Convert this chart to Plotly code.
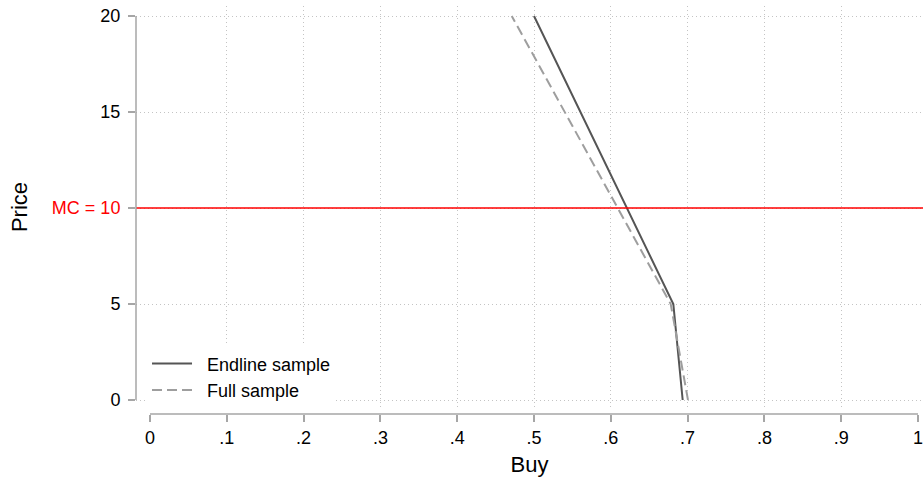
import plotly.graph_objects as go

# Demand curves: share buying at each price
price = [0, 5, 20]
buy_endline = [0.6936, 0.6814, 0.500]
buy_full = [0.7005, 0.678, 0.471]
marginal_cost = 10

x_ticks = [0, 0.1, 0.2, 0.3, 0.4, 0.5, 0.6, 0.7, 0.8, 0.9, 1]
x_labels = ["0", ".1", ".2", ".3", ".4", ".5", ".6", ".7", ".8", ".9", "1"]
y_ticks = [0, 5, 10, 15, 20]
y_labels = ["0", "5", '<span style="color:#ff0000">MC = 10</span>', "15", "20"]

AXIS_GRAY = "#a6a6a6"
GRID_GRAY = "#c4c4c4"
FONT = "Liberation Sans, Arial, Helvetica, sans-serif"
GAP = "\u00a0\u00a0"

fig = go.Figure()
fig.add_trace(go.Scatter(
    x=buy_endline, y=price, mode="lines", name=GAP + "Endline sample",
    line=dict(color="#555555", width=2), legendgroup="a",
))
fig.add_trace(go.Scatter(
    x=buy_full, y=price, mode="lines", name=GAP + "Full sample",
    line=dict(color="#9e9e9e", width=2, dash="10px,5px"), legendgroup="b",
))

# marginal cost reference line
fig.add_shape(type="line", xref="paper", x0=0, x1=1, yref="y",
              y0=marginal_cost, y1=marginal_cost,
              line=dict(color="#ff0000", width=1.6))

# axis lines spanning only the labelled range
fig.add_shape(type="line", xref="x", x0=x_ticks[0], x1=x_ticks[-1],
              yref="paper", y0=0, y1=0, line=dict(color=AXIS_GRAY, width=1.5))
fig.add_shape(type="line", xref="paper", x0=0, x1=0, yref="y",
              y0=y_ticks[0], y1=y_ticks[-1], line=dict(color=AXIS_GRAY, width=1.5))

fig.update_layout(
    width=923, height=484,
    margin=dict(l=136, r=0, t=6, b=70),
    paper_bgcolor="white", plot_bgcolor="white",
    font=dict(family=FONT, size=18, color="black"),
    showlegend=True,
    legend=dict(
        x=0.014, y=0.014, xanchor="left", yanchor="bottom",
        bgcolor="white", borderwidth=0,
        font=dict(size=18), tracegroupgap=0, itemwidth=40,
    ),
    xaxis=dict(
        range=[-14 / 768, 1 + 5 / 768],
        anchor="free", position=0,
        tickvals=x_ticks, ticktext=x_labels,
        ticks="outside", ticklen=7, tickcolor=AXIS_GRAY, tickwidth=1.5,
        ticklabeloverflow="allow",
        showline=False, zeroline=False, showgrid=False,
        minor=dict(tickvals=x_ticks[1:-1], showgrid=True, gridcolor=GRID_GRAY,
                   griddash="1px,3px", gridwidth=1, ticks=""),
        title=dict(text="Buy", font=dict(size=22), standoff=10),
        tickfont=dict(size=18),
    ),
    yaxis=dict(
        range=[-8 / 19.2, 20 + 10 / 19.2],
        domain=[6 / 408, 1],
        tickvals=y_ticks, ticktext=y_labels,
        ticks="outside", ticklen=7, tickcolor=AXIS_GRAY, tickwidth=1.5,
        showline=False, zeroline=False,
        showgrid=True, gridcolor=GRID_GRAY, griddash="1px,3px", gridwidth=1,
        title=dict(text="Price", font=dict(size=22), standoff=18),
        tickfont=dict(size=18),
        ticklabelstandoff=4,
    ),
)

fig.write_html("out.html")
